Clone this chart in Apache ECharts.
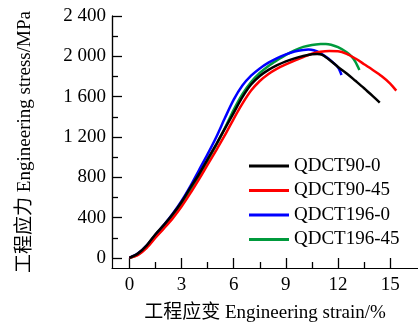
<!DOCTYPE html>
<html><head><meta charset="utf-8">
<script src="https://cdn.jsdelivr.net/npm/echarts@6/dist/echarts.min.js"></script>
<style>html,body{margin:0;padding:0;background:#fff}#c{width:418px;height:329px}</style>
</head><body><div id="c"></div>
<script>
const seriesNames = ['QDCT90-0','QDCT90-45','QDCT196-0','QDCT196-45'];
const qdct90_0 = [[0,0],[0.5,45],[1,125],[1.5,235],[2,330],[2.5,435],[3,555],[3.5,695],[4,830],[4.5,980],[5,1130],[5.5,1285],[6,1440],[6.5,1595],[7,1720],[7.5,1805],[8,1865],[8.5,1912],[9,1950],[9.5,1980],[10,2003],[10.5,2020],[10.8,2024],[11.1,2015],[11.5,1965],[12,1895],[12.5,1830],[13,1757],[13.5,1683],[14,1605],[14.4,1541]];
const qdct90_45 = [[0,0],[0.5,30],[1,100],[1.5,200],[2,295],[2.5,395],[3,510],[3.5,640],[4,780],[4.5,925],[5,1070],[5.5,1220],[6,1380],[6.5,1530],[7,1660],[7.5,1755],[8,1825],[8.5,1878],[9,1920],[9.5,1958],[10,1993],[10.5,2025],[11,2045],[11.5,2052],[12,2050],[12.5,2025],[13,1978],[13.5,1922],[14,1865],[14.5,1805],[15,1730],[15.35,1660]];
const qdct196_0 = [[0,0],[0.5,45],[1,125],[1.5,230],[2,330],[2.5,440],[3,565],[3.5,710],[4,870],[4.5,1030],[5,1200],[5.5,1390],[6,1570],[6.5,1710],[7,1808],[7.5,1880],[8,1937],[8.5,1983],[9,2020],[9.5,2048],[10,2063],[10.3,2067],[10.6,2060],[11,2030],[11.5,1970],[12,1890],[12.2,1815]];
const qdct196_45 = [[0,0],[0.5,35],[1,110],[1.5,210],[2,305],[2.5,410],[3,530],[3.5,665],[4,815],[4.5,965],[5,1120],[5.5,1290],[6,1470],[6.5,1625],[7,1745],[7.5,1835],[8,1905],[8.5,1962],[9,2015],[9.5,2060],[10,2094],[10.5,2113],[11,2122],[11.3,2123],[11.6,2115],[12,2090],[12.5,2040],[12.8,1995],[13,1945],[13.23,1865]];
const xTickLabels = [0,3,6,9,12,15];
const yTickLabels = [0,400,800,1200,1600,2000,2400];
const colors = ['#000000','#ff0000','#0000ff','#009a3c'];
const allData = [qdct90_0, qdct90_45, qdct196_0, qdct196_45];

const FONT = "'Liberation Serif','Times New Roman','Noto Sans CJK SC',serif";
const chart = echarts.init(document.getElementById('c'), null, {renderer:'canvas'});
const fmtY = v => { const s = String(v); return s.length > 3 ? s.slice(0, s.length-3) + ' ' + s.slice(-3) : s; };

const W = 418, H = 329, GL = 112, GR = 0, GT = 16, GB = 61;
const XMIN = -1, XMAX = 16.6, YMIN = -100, YMAX = 2400;
const pxPerX = (W - GL - GR) / (XMAX - XMIN);
const pxPerY = (H - GT - GB) / (YMAX - YMIN);
const x0px = GL + (0 - XMIN) * pxPerX;
const gridXT = {left: x0px, right: W - (x0px + 15 * pxPerX), top: GT, bottom: GB};
const gridYT = {left: GL, right: GR, top: GT, bottom: H - (GT + (YMAX - 0) * pxPerY)};
const tickStyle = {color:'#000', width:1.3};

chart.setOption({
  animation:false,
  color: colors,
  grid:[{left:GL, right:GR, top:GT, bottom:GB}, gridXT, gridYT],
  legend:{orient:'vertical', left:244, top:151, itemWidth:40, itemHeight:3, itemGap:4.5, icon:'rect',
    data: seriesNames,
    textStyle:{fontFamily:FONT, fontSize:19, lineHeight:20, color:'#000'}},
  xAxis:[
    {type:'value', gridIndex:0, min:XMIN, max:XMAX, position:'bottom',
      name:'工程应变 Engineering strain/%', nameLocation:'middle', nameGap:36,
      nameTextStyle:{fontFamily:FONT, fontSize:19, color:'#000'},
      axisLine:{show:true, onZero:false, lineStyle:{color:'#000', width:1.2}},
      axisTick:{show:false},
      splitLine:{show:false},
      axisLabel:{show:true, customValues:xTickLabels, margin:8, fontFamily:FONT, fontSize:19, color:'#000'}},
    {type:'value', gridIndex:1, min:0, max:15, interval:3, position:'bottom',
      axisLine:{show:true, onZero:false, lineStyle:{color:'#000', width:1.2}}, axisLabel:{show:false}, splitLine:{show:false},
      axisTick:{show:true, inside:true, length:10, lineStyle:tickStyle},
      minorTick:{show:true, splitNumber:2, length:6, lineStyle:tickStyle}},
    {type:'value', gridIndex:2, min:0, max:1, show:false}
  ],
  yAxis:[
    {type:'value', gridIndex:0, min:YMIN, max:YMAX, position:'left',
      name:'工程应力 Engineering stress/MPa', nameLocation:'middle', nameGap:77,
      nameTextStyle:{fontFamily:FONT, fontSize:19, color:'#000'},
      axisLine:{show:true, onZero:false, lineStyle:{color:'#000', width:1.2}},
      axisTick:{show:false},
      splitLine:{show:false},
      axisLabel:{show:true, customValues:yTickLabels, margin:6, fontFamily:FONT, fontSize:19, color:'#000', formatter:fmtY}},
    {type:'value', gridIndex:1, min:0, max:1, show:false},
    {type:'value', gridIndex:2, min:0, max:2400, interval:400, position:'left',
      axisLine:{show:true, onZero:false, lineStyle:{color:'#000', width:1.2}}, axisLabel:{show:false}, splitLine:{show:false},
      axisTick:{show:true, inside:true, length:10, lineStyle:tickStyle},
      minorTick:{show:true, splitNumber:2, length:6, lineStyle:tickStyle}}
  ],
  series: seriesNames.map((n,i)=>({
    name:n, type:'line', data:allData[i], smooth:0.3, symbol:'none',
    xAxisIndex:0, yAxisIndex:0, z: 4-i,
    lineStyle:{width:2.5, color:colors[i]}
  }))
});
</script></body></html>
